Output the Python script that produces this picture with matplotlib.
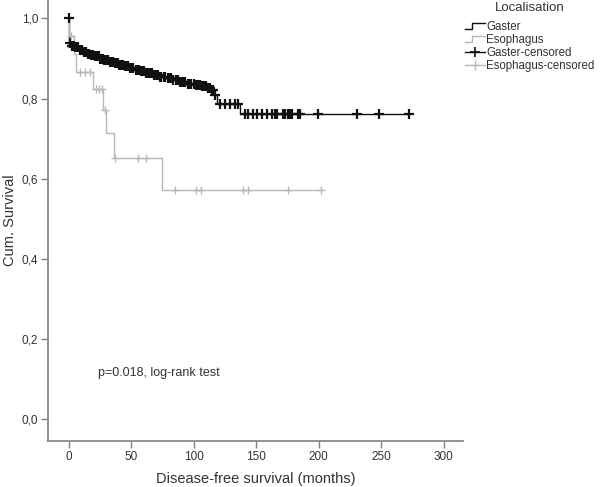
import numpy as np
import matplotlib
matplotlib.use('Agg')
import matplotlib.pyplot as plt
from matplotlib.lines import Line2D
from matplotlib.legend_handler import HandlerBase
from matplotlib.ticker import FuncFormatter

plt.rcParams['font.family'] = ['Liberation Sans', 'DejaVu Sans']

# Gaster: step times and survival after each step
gaster_t = [0, 0.3, 2, 5, 8, 11, 14, 17, 20, 24, 28, 32, 36, 40, 44, 48, 53, 57,
            62, 67, 72, 78, 83, 88, 94, 101, 106, 110, 113, 116, 118.5, 137, 272]
gaster_s = [1.0, 0.9375, 0.932, 0.928, 0.922, 0.917, 0.912, 0.908, 0.905, 0.899,
            0.895, 0.892, 0.889, 0.884, 0.880, 0.876, 0.872, 0.868, 0.863, 0.860,
            0.855, 0.851, 0.847, 0.841, 0.837, 0.835, 0.831, 0.826, 0.822, 0.808,
            0.787, 0.7625, 0.7625]
gaster_cens = [0, 1.2, 2.5, 3.1, 4.4, 5.0, 6.3, 7.1, 8.6, 9.2, 10.5, 11.8, 12.4,
               13.9, 15.1, 16.0, 17.4, 18.8, 19.5, 21.0, 22.3, 23.7, 24.6, 26.1,
               27.4, 28.0, 29.6, 31.2, 32.5, 33.8, 35.0, 36.6, 37.9, 39.3, 40.1,
               41.8, 43.0, 44.5, 45.7, 47.2, 48.9, 50.1, 51.6, 53.3, 54.8, 56.0,
               57.7, 59.1, 60.4, 62.0, 63.5, 65.2, 66.8, 68.0, 69.7, 71.3, 72.6,
               74.1, 75.9, 77.2, 79.0, 80.5, 82.1, 83.7, 85.4, 87.0, 88.6, 90.3,
               91.8, 93.2, 95.0, 96.7, 98.1, 99.8, 101.5, 103.0, 104.6, 106.2,
               108.0, 109.5, 111.1, 112.7, 114.2, 115.5, 117.0, 121, 125, 129,
               133, 135.5, 141, 143.5, 147.5, 150.6, 154.6, 158.6, 162.4, 165,
               166.7, 171.7, 173, 175.6, 177, 178.4, 183.7, 185, 199.8, 230.5,
               248.6, 272]

# Esophagus
eso_t = [0, 0.2, 3.8, 5.6, 19.5, 27.5, 29.6, 36, 74.3, 202]
eso_s = [1.0, 0.955, 0.91, 0.866, 0.825, 0.772, 0.714, 0.652, 0.571, 0.571]
eso_cens = [1.6, 8.8, 12.8, 16.8, 21.6, 24.3, 26.4, 28.8, 36.5, 55, 62, 85,
            101.8, 105.5, 139.7, 143.2, 175.7, 202]

legend_labels = ['Gaster', 'Esophagus', 'Gaster-censored', 'Esophagus-censored']

BLACK = '#111111'
GRAY = '#b8b8b8'
TXT = '#333333'


def surv_at(times, surv, t):
    # value of the step curve at time t (post steps)
    i = np.searchsorted(times, t, side='right') - 1
    return np.array(surv)[i]


class StepHandler(HandlerBase):
    def create_artists(self, legend, orig_handle, xdescent, ydescent,
                       width, height, fontsize, trans):
        x = np.array([0, 0.35, 0.35, 1.0]) * width - xdescent
        y = np.array([0.15, 0.15, 0.85, 0.85]) * height - ydescent
        ln = Line2D(x, y, color=orig_handle.get_color(), lw=1.0)
        ln.set_transform(trans)
        return [ln]


fig = plt.figure(figsize=(6, 4.87), dpi=100)
ax = fig.add_axes([48 / 600, 1 - 441 / 487, 415 / 600, 441 / 487])

ax.step(gaster_t, gaster_s, where='post', color=BLACK, lw=1.0)
ax.step(eso_t, eso_s, where='post', color=GRAY, lw=1.0)

gc = np.array(gaster_cens)
ec = np.array(eso_cens)
gy = surv_at(gaster_t, gaster_s, gc)
gy[0] = 1.0
ey = surv_at(eso_t, eso_s, ec)
ax.plot(gc, gy, '+', color=BLACK, ms=7, mew=1.6)
ax.plot(ec, ey, '+', color=GRAY, ms=6, mew=1.0)

ax.set_xlim(-16.8, 315.6)
ax.set_ylim(-0.055, 1.046)
ax.set_xticks([0, 50, 100, 150, 200, 250, 300])
ax.set_yticks([0, 0.2, 0.4, 0.6, 0.8, 1.0])
ax.yaxis.set_major_formatter(FuncFormatter(lambda v, p: ('%.1f' % v).replace('.', ',')))

for s in ['top', 'right']:
    ax.spines[s].set_visible(False)
for s in ['left', 'bottom']:
    ax.spines[s].set_color('#808080')
    ax.spines[s].set_linewidth(1.2)
ax.tick_params(colors='#808080', labelcolor=TXT, labelsize=8.5, length=5, width=1, pad=2)

ax.set_xlabel('Disease-free survival (months)', fontsize=10.5, color=TXT, labelpad=7)
ax.set_ylabel('Cum. Survival', fontsize=10.5, color=TXT)
ax.yaxis.label.set_va('center')
ax.yaxis.set_label_coords(-0.092, 0.5)

ax.text(23, 0.116, 'p=0.018, log-rank test', fontsize=9, color=TXT, va='center')

fig.text(530 / 600, 1 - 8 / 487, 'Localisation', fontsize=9.5, color=TXT,
         ha='center', va='center')

handles = [Line2D([], [], color=BLACK), Line2D([], [], color=GRAY),
           Line2D([], [], color=BLACK, marker='+', ms=7, mew=1.2, lw=1.0),
           Line2D([], [], color=GRAY, marker='+', ms=7, mew=1.0, lw=1.0)]
leg = fig.legend(handles, legend_labels, loc='upper left',
                 bbox_to_anchor=(465 / 600, 1 - 21 / 487), frameon=False,
                 fontsize=8.3, handlelength=1.7, handletextpad=0.15,
                 labelspacing=0.08, borderpad=0.0, borderaxespad=0,
                 handler_map={handles[0]: StepHandler(), handles[1]: StepHandler()})
for t in leg.get_texts():
    t.set_color(TXT)

fig.savefig('out.png', dpi=100)
